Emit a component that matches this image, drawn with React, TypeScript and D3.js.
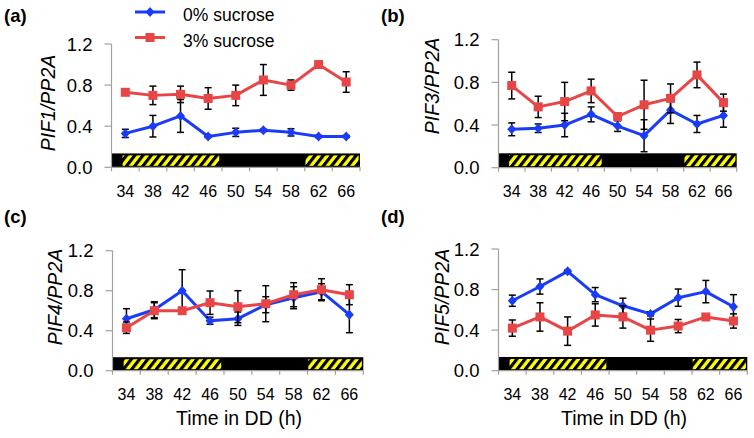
import React, { useEffect, useRef } from "react";
import * as d3 from "d3";

// ---------- data ----------
const hours = [34, 38, 42, 46, 50, 54, 58, 62, 66];
const xDomain = [32, 68];
const yTicks = [0, 0.4, 0.8, 1.2];
const seriesNames = ["0% sucrose", "3% sucrose"];
const panelLetters = ["(a)", "(b)", "(c)", "(d)"];
const geneLabels = ["PIF1", "PIF3", "PIF4", "PIF5"];
const xTitle = "Time in DD (h)";

// black (dark) bar and hatched (subjective day) intervals, in hours
const darkBar = [32, 68];
const hatchedIntervals = [
  [33.6, 47.6],
  [60.1, 67.8],
];
const barTop = 0.135;

const pif1Zero = [0.33, 0.4, 0.5, 0.3, 0.34, 0.36, 0.34, 0.3, 0.3];
const pif1ZeroErr = [0.04, 0.105, 0.16, 0.01, 0.04, 0.012, 0.035, 0.01, 0.01];
const pif1Three = [0.73, 0.7, 0.71, 0.67, 0.7, 0.85, 0.8, 1.0, 0.83];
const pif1ThreeErr = [0.01, 0.09, 0.08, 0.105, 0.1, 0.15, 0.05, 0.01, 0.1];

const pif3Zero = [0.36, 0.37, 0.4, 0.5, 0.39, 0.3, 0.54, 0.41, 0.49];
const pif3ZeroErr = [0.06, 0.04, 0.11, 0.07, 0.05, 0.15, 0.125, 0.08, 0.11];
const pif3Three = [0.77, 0.57, 0.62, 0.72, 0.48, 0.59, 0.65, 0.87, 0.61];
const pif3ThreeErr = [0.125, 0.1, 0.18, 0.11, 0.01, 0.23, 0.135, 0.12, 0.08];

const pif4Zero = [0.52, 0.61, 0.8, 0.5, 0.52, 0.66, 0.73, 0.79, 0.56];
const pif4ZeroErr = [0.1, 0.08, 0.21, 0.035, 0.067, 0.08, 0.11, 0.08, 0.18];
const pif4Three = [0.43, 0.6, 0.6, 0.68, 0.64, 0.67, 0.76, 0.81, 0.76];
const pif4ThreeErr = [0.057, 0.08, 0.01, 0.117, 0.16, 0.18, 0.12, 0.11, 0.1];

const pif5Zero = [0.69, 0.83, 0.98, 0.75, 0.64, 0.56, 0.72, 0.78, 0.63];
const pif5ZeroErr = [0.055, 0.075, 0.012, 0.07, 0.075, 0.02, 0.085, 0.11, 0.12];
const pif5Three = [0.42, 0.53, 0.39, 0.55, 0.53, 0.4, 0.44, 0.53, 0.49];
const pif5ThreeErr = [0.08, 0.14, 0.14, 0.11, 0.11, 0.11, 0.065, 0.01, 0.07];

const panelData = [
  { zero: pif1Zero, zeroErr: pif1ZeroErr, three: pif1Three, threeErr: pif1ThreeErr },
  { zero: pif3Zero, zeroErr: pif3ZeroErr, three: pif3Three, threeErr: pif3ThreeErr },
  { zero: pif4Zero, zeroErr: pif4ZeroErr, three: pif4Three, threeErr: pif4ThreeErr },
  { zero: pif5Zero, zeroErr: pif5ZeroErr, three: pif5Three, threeErr: pif5ThreeErr },
];

// ---------- layout / style ----------
const W = 754;
const H = 438;
const BLUE = "#1a3cf8";
const RED = "#e84646";
const AXIS = "#a0a0a0";
const FONT = "Liberation Sans, Arial, sans-serif";

const layouts = [
  { x0: 111.5, x1: 360, yTop: 44, yBot: 167.3, letter: [4, 22], ylab: [48, 103], xtitle: null },
  { x0: 498.5, x1: 736.7, yTop: 39.7, yBot: 167.7, letter: [381, 22], ylab: [432, 86], xtitle: null },
  { x0: 112.5, x1: 363.3, yTop: 250.7, yBot: 370.7, letter: [4, 223], ylab: [55, 297], xtitle: [239, 425] },
  { x0: 498.5, x1: 747.3, yTop: 249, yBot: 370.7, letter: [381, 223], ylab: [442, 297], xtitle: [624, 425] },
];

export default function App() {
  const ref = useRef<SVGSVGElement | null>(null);

  useEffect(() => {
    const svg = d3.select(ref.current);
    svg.selectAll("*").remove();

    const defs = svg.append("defs");
    const pat = defs
      .append("pattern")
      .attr("id", "hatch")
      .attr("patternUnits", "userSpaceOnUse")
      .attr("width", 8.2)
      .attr("height", 40)
      .attr("patternTransform", "skewX(-38)");
    pat.append("rect").attr("width", 8.2).attr("height", 40).attr("fill", "#ffff00");
    pat.append("rect").attr("x", 0).attr("width", 4).attr("height", 40).attr("fill", "#000");

    layouts.forEach((L, pi) => {
      const d = panelData[pi];
      const g = svg.append("g");
      const x = d3.scaleLinear().domain(xDomain).range([L.x0, L.x1]);
      const y = d3.scaleLinear().domain([0, 1.2]).range([L.yBot, L.yTop]);

      // dark bar
      g.append("rect")
        .attr("x", x(darkBar[0]))
        .attr("y", y(barTop))
        .attr("width", x(darkBar[1]) - x(darkBar[0]))
        .attr("height", y(0) - y(barTop))
        .attr("fill", "#000");
      hatchedIntervals.forEach(([a, b]) => {
        g.append("rect")
          .attr("x", x(a))
          .attr("y", y(barTop) + 2)
          .attr("width", x(b) - x(a))
          .attr("height", y(0) - y(barTop) - 3.5)
          .attr("fill", "url(#hatch)");
      });

      // y axis
      g.append("line")
        .attr("x1", L.x0)
        .attr("x2", L.x0)
        .attr("y1", y(0))
        .attr("y2", y(1.2))
        .attr("stroke", AXIS)
        .attr("stroke-width", 1.2);
      yTicks.forEach((t) => {
        g.append("line")
          .attr("x1", L.x0 - 7)
          .attr("x2", L.x0)
          .attr("y1", y(t))
          .attr("y2", y(t))
          .attr("stroke", AXIS)
          .attr("stroke-width", 1.2);
        g.append("text")
          .attr("x", L.x0 - 19)
          .attr("y", y(t))
          .attr("dy", "0.36em")
          .attr("text-anchor", "end")
          .attr("font-family", FONT)
          .attr("font-size", 18.5)
          .attr("fill", "#000")
          .text(t.toFixed(1));
      });

      // x axis
      g.append("line")
        .attr("x1", L.x0)
        .attr("x2", L.x1)
        .attr("y1", y(0))
        .attr("y2", y(0))
        .attr("stroke", AXIS)
        .attr("stroke-width", 1.2);
      const bounds = d3.range(xDomain[0], xDomain[1] + 1, 4);
      bounds.forEach((b) => {
        g.append("line")
          .attr("x1", x(b))
          .attr("x2", x(b))
          .attr("y1", y(0))
          .attr("y2", y(0) + 4)
          .attr("stroke", AXIS)
          .attr("stroke-width", 1.2);
      });
      hours.forEach((h) => {
        g.append("text")
          .attr("x", x(h))
          .attr("y", y(0) + 24)
          .attr("dy", "0.36em")
          .attr("text-anchor", "middle")
          .attr("font-family", FONT)
          .attr("font-size", 16)
          .attr("fill", "#000")
          .text(String(h));
      });

      // series
      const drawSeries = (vals: number[], errs: number[], color: string, kind: "diamond" | "square") => {
        const line = d3
          .line<number>()
          .x((_, i) => x(hours[i]))
          .y((v) => y(v));
        g.append("path")
          .attr("d", line(vals) as string)
          .attr("fill", "none")
          .attr("stroke", color)
          .attr("stroke-width", 3)
          .attr("stroke-linejoin", "round");
        vals.forEach((v, i) => {
          const cx = x(hours[i]);
          const lo = y(v - errs[i]);
          const hi = y(v + errs[i]);
          g.append("line").attr("x1", cx).attr("x2", cx).attr("y1", lo).attr("y2", hi).attr("stroke", "#000").attr("stroke-width", 1.5);
          [lo, hi].forEach((yy) =>
            g.append("line").attr("x1", cx - 3.5).attr("x2", cx + 3.5).attr("y1", yy).attr("y2", yy).attr("stroke", "#000").attr("stroke-width", 1.5)
          );
        });
        vals.forEach((v, i) => {
          const cx = x(hours[i]);
          const cy = y(v);
          if (kind === "square") {
            g.append("rect").attr("x", cx - 4.5).attr("y", cy - 4.5).attr("width", 9).attr("height", 9).attr("fill", color);
          } else {
            g.append("path")
              .attr("d", `M${cx},${cy - 5}L${cx + 4.5},${cy}L${cx},${cy + 5}L${cx - 4.5},${cy}Z`)
              .attr("fill", color);
          }
        });
      };
      drawSeries(d.zero, d.zeroErr, BLUE, "diamond");
      drawSeries(d.three, d.threeErr, RED, "square");

      // panel letter
      g.append("text")
        .attr("x", L.letter[0])
        .attr("y", L.letter[1])
        .attr("font-family", FONT)
        .attr("font-weight", "bold")
        .attr("font-size", 18.5)
        .text(panelLetters[pi]);

      // y label
      const yl = g
        .append("text")
        .attr("transform", `translate(${L.ylab[0]},${L.ylab[1]}) rotate(-90)`)
        .attr("text-anchor", "middle")
        .attr("dy", "0.36em")
        .attr("font-family", FONT)
        .attr("font-style", "italic")
        .attr("font-size", 19.5);
      yl.text(`${geneLabels[pi]}/PP2A`);

      if (L.xtitle) {
        g.append("text")
          .attr("x", L.xtitle[0])
          .attr("y", L.xtitle[1])
          .attr("text-anchor", "middle")
          .attr("font-family", FONT)
          .attr("font-size", 19.5)
          .text(xTitle);
      }
    });

    // legend
    const lg = svg.append("g");
    const legendRows = [
      { name: seriesNames[0], color: BLUE, kind: "diamond", y: 12 },
      { name: seriesNames[1], color: RED, kind: "square", y: 37.5 },
    ];
    legendRows.forEach((r) => {
      lg.append("line").attr("x1", 135).attr("x2", 165).attr("y1", r.y).attr("y2", r.y).attr("stroke", r.color).attr("stroke-width", 3);
      if (r.kind === "square") {
        lg.append("rect").attr("x", 150 - 4.5).attr("y", r.y - 4.5).attr("width", 9).attr("height", 9).attr("fill", r.color);
      } else {
        lg.append("path").attr("d", `M150,${r.y - 5}L154.5,${r.y}L150,${r.y + 5}L145.5,${r.y}Z`).attr("fill", r.color);
      }
      lg.append("text")
        .attr("x", 183)
        .attr("y", r.y + 3)
        .attr("dy", "0.36em")
        .attr("font-family", FONT)
        .attr("font-size", 17.5)
        .text(r.name);
    });
  }, []);

  return (
    <svg
      ref={ref}
      width={W}
      height={H}
      style={{ position: "absolute", left: 0, top: 0, background: "#fff" }}
    />
  );
}
